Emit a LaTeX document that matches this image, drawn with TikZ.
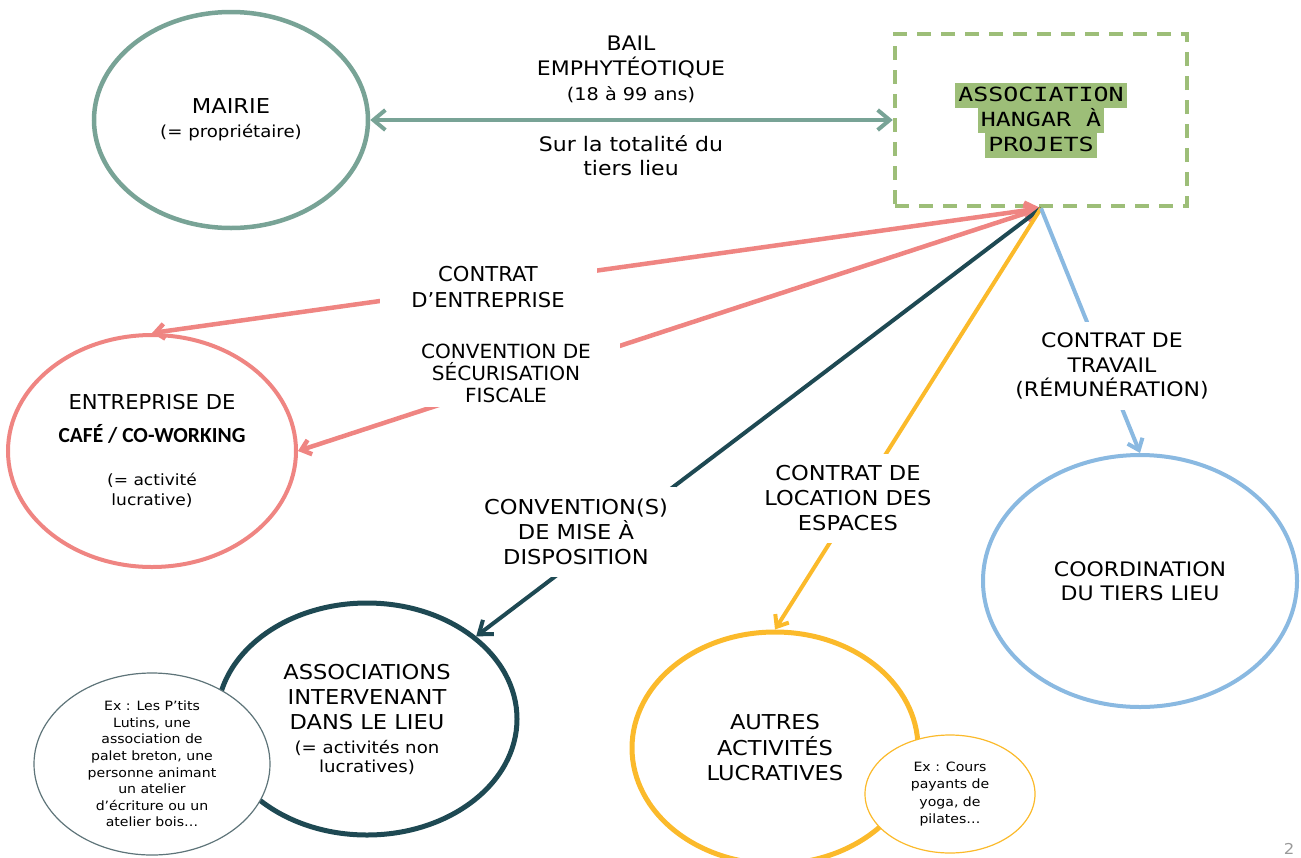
\documentclass[tikz,border=0pt]{standalone}
\usepackage{fontspec}
\setmainfont{DejaVu Sans}[FakeStretch=1.1]
\newfontfamily\narrowf{DejaVu Sans}[FakeStretch=1.03]
\newfontfamily\monof{DejaVu Sans Mono}[FakeStretch=1.28]
\newfontfamily\calibf{Carlito}
\usetikzlibrary{arrows.meta,shapes.geometric}
\definecolor{mairiec}{HTML}{78A396}
\definecolor{greenc}{HTML}{9DBE78}
\definecolor{pinkc}{HTML}{EF8582}
\definecolor{tealc}{HTML}{1E4953}
\definecolor{yellc}{HTML}{FBBA2B}
\definecolor{bluec}{HTML}{8AB9E1}
\definecolor{grayc}{HTML}{5E7479}
\definecolor{pagec}{HTML}{9A9A9A}
\newcommand\hlline[1]{\colorbox{greenc}{\rule[-3pt]{0pt}{19pt}#1}}
\tikzset{
  ell/.style={ellipse, inner sep=0pt, align=center},
  lab/.style={fill=white, inner sep=0pt, align=center},
  capsf/.style={font={\fontsize{20.5}{25}\selectfont}},
  barbM/.tip={Straight Barb[length=12pt,width=20pt]},
  barbP/.tip={Straight Barb[length=9pt,width=15pt]},
  barbPB/.tip={Straight Barb[length=12pt,width=16pt]},
  barbT/.tip={Straight Barb[length=12pt,width=18pt]},
  barbY/.tip={Straight Barb[length=10pt,width=16pt]},
}
\begin{document}
\begin{tikzpicture}[x=1pt,y=-1pt]
\useasboundingbox (0,0) rectangle (1301,857);

% main nodes
\node[ell, draw=mairiec, line width=4.5pt, minimum width=274pt, minimum height=216pt, font={\fontsize{20.5}{24}\selectfont}] (mairie) at (231,120)
  {MAIRIE\\{\fontsize{16.5}{20}\selectfont (= propriétaire)}};

\node[draw=greenc, line width=4.5pt, dash pattern=on 14pt off 10pt, minimum width=292pt, minimum height=172pt, inner sep=0pt, align=center,
      font={\monof\fontsize{19.5}{25}\selectfont\fboxsep=3pt\lineskiplimit=-20pt}] (box) at (1041,120)
  {\hlline{ASSOCIATION}\\\hlline{HANGAR À}\\\hlline{PROJETS}};

\node[ell, draw=pinkc, line width=4pt, minimum width=288pt, minimum height=232pt, font={\fontsize{19.5}{24}\selectfont}] (ent) at (152,451)
  {{\narrowf\fontsize{20.5}{24}\selectfont ENTREPRISE DE}\\[9pt]{\calibf\bfseries\fontsize{21.5}{24}\selectfont CAFÉ / CO-WORKING}\\[19pt]{\fontsize{15.5}{19}\selectfont (= activité}\\[-4pt]{\fontsize{15.5}{19}\selectfont lucrative)}};

\node[ell, draw=tealc, line width=5pt, minimum width=300pt, minimum height=232pt, capsf] (assocs) at (367,719)
  {ASSOCIATIONS\\INTERVENANT\\DANS LE LIEU\\[-1pt]{\fontsize{16.5}{20}\selectfont (= activités non}\\[-6pt]{\fontsize{16.5}{20}\selectfont lucratives)}};

\node[ell, draw=yellc, line width=5pt, minimum width=286pt, minimum height=232pt, font={\fontsize{20.5}{25.5}\selectfont}] (autres) at (775,748)
  {AUTRES\\ACTIVITÉS\\LUCRATIVES};

\node[ell, draw=bluec, line width=4pt, minimum width=314pt, minimum height=252pt, font={\fontsize{20}{24}\selectfont}] (coord) at (1140,581)
  {COORDINATION\\DU TIERS LIEU};

% example ellipses
\node[ell, draw=grayc, line width=1.2pt, fill=white, minimum width=236pt, minimum height=182pt, font={\fontsize{12.8}{16.6}\selectfont}] (lutins) at (152,764)
  {Ex : Les P’tits\\Lutins, une\\association de\\palet breton, une\\personne animant\\un atelier\\d’écriture ou un\\atelier bois…};

\node[ell, draw=yellc, line width=1.2pt, fill=white, minimum width=170pt, minimum height=118pt, font={\fontsize{12.8}{17.3}\selectfont}] (yoga) at (950,794)
  {Ex : Cours\\payants de\\yoga, de\\pilates…};

% connectors
\draw[draw=mairiec, line width=4pt, barbM-barbM] (mairie.east) -- (box.west);
\draw[draw=pinkc, line width=4.5pt, barbPB-barbP] (box.south) -- (ent.north);
\draw[draw=pinkc, line width=4.5pt, barbPB-barbP] (box.south) -- (ent.east);
\draw[draw=tealc, line width=4pt, -barbT] (box.south) -- (assocs);
\draw[draw=yellc, line width=4pt, -barbY] (box.south) -- (autres.north);
\draw[draw=bluec, line width=4pt, -barbY] (box.south) -- (coord.north);

% labels
\node[align=center, font={\fontsize{20}{25}\selectfont}] (bail) at (631,69)
  {BAIL\\EMPHYTÉOTIQUE\\{\fontsize{17.5}{25}\selectfont (18 à 99 ans)}};
\node[align=center, font={\fontsize{20}{24}\selectfont}] (sur) at (631,156)
  {Sur la totalité du\\tiers lieu};

\node[lab, font={\narrowf\fontsize{20.5}{26}\selectfont}, minimum width=217pt, minimum height=52pt] (l1) at (488,287)
  {CONTRAT\\D’ENTREPRISE};
\node[lab, font={\narrowf\fontsize{19.5}{22}\selectfont}, minimum width=228pt, minimum height=68pt] (l2) at (506,373)
  {CONVENTION DE\\SÉCURISATION\\FISCALE};
\node[lab, capsf, minimum width=200pt, minimum height=90pt] (l3) at (576,532)
  {CONVENTION(S)\\DE MISE À\\DISPOSITION};
\node[lab, capsf, minimum width=180pt, minimum height=89pt] (l4) at (848,498)
  {CONTRAT DE\\LOCATION DES\\ESPACES};
\node[lab, font={\fontsize{20}{24.5}\selectfont}, minimum width=210pt, minimum height=88pt] (l5) at (1112,366)
  {CONTRAT DE\\TRAVAIL\\(RÉMUNÉRATION)};

\node[text=pagec, font={\fontsize{15}{18}\selectfont}] (pg) at (1289,849) {2};
\end{tikzpicture}
\end{document}
